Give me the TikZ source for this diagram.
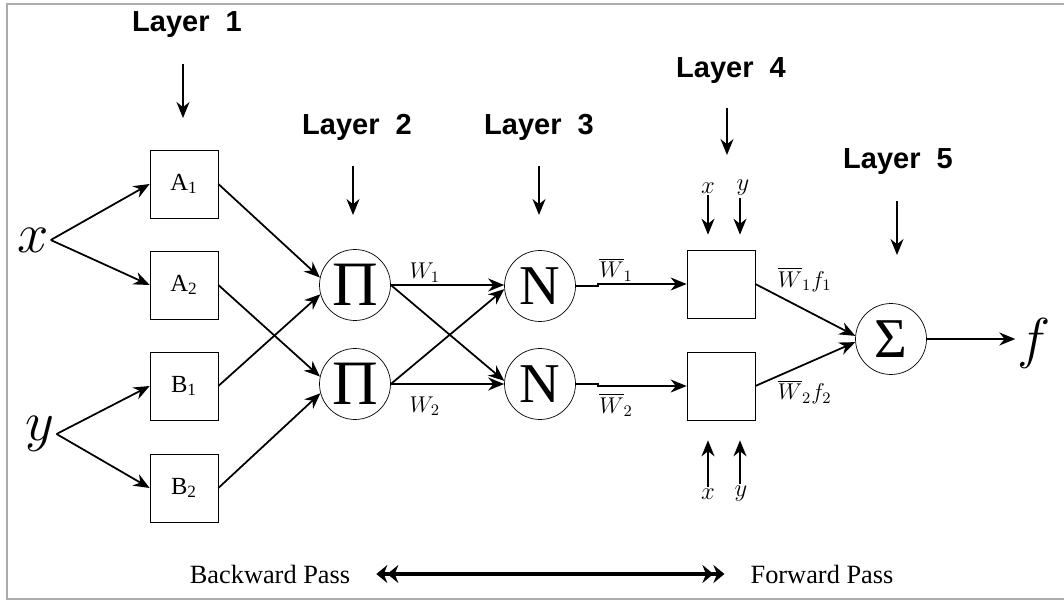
\documentclass[tikz,border=0pt]{standalone}
\usepackage{fix-cm}
\usepackage{fontspec}
\setmainfont{Liberation Serif}
\newfontfamily\layerfont{Liberation Sans}
\usepackage{amsmath}
\usepackage{tikz}
\usetikzlibrary{arrows.meta,positioning,calc}
\newcommand{\wbar}[1]{$\overline{W}_{#1}$}

\begin{document}
\begin{tikzpicture}[x=0.02cm, y=-0.02cm,
  box/.style={draw, minimum size=1.36cm, inner sep=0pt, font=\fontsize{14}{16}\selectfont},
  op/.style={draw, circle, minimum size=1.42cm, inner sep=0pt},
  lyr/.style={font=\layerfont\bfseries\fontsize{16.5}{18}\selectfont},
  inp/.style={inner sep=1pt, font=\fontsize{32}{34}\selectfont},
  wlbl/.style={inner sep=1pt, font=\fontsize{13}{15}\selectfont},
  xy/.style={inner sep=1pt, font=\fontsize{14}{16}\selectfont},
  arr/.style={-{Stealth[length=3.2mm, width=2.6mm]}, line width=1pt},
  darr/.style={{Stealth[length=2.2mm, width=3.6mm]Stealth[length=2.2mm, width=3.6mm]}-{Stealth[length=2.2mm, width=3.6mm]Stealth[length=2.2mm, width=3.6mm]}, line width=2pt},
  pass/.style={font=\fontsize{15}{17}\selectfont}
]
  \useasboundingbox (0,0) rectangle (1064,601);
  \draw[gray!65, line width=1.3pt] (1064,4) -- (7,4) -- (7,599) -- (1064,599);

  \node[inp] (xin) at (33,240) {$x$};
  \node[inp] (yin) at (40,434) {$y$};

  \node[box] (a1) at (184,184) {A\textsubscript{1}};
  \node[box] (a2) at (184,285) {A\textsubscript{2}};
  \node[box] (b1) at (184,386) {B\textsubscript{1}};
  \node[box] (b2) at (184,488) {B\textsubscript{2}};

  \node[op, font=\fontsize{36}{38}\selectfont] (p1) at (355,285) {Π};
  \node[op, font=\fontsize{36}{38}\selectfont] (p2) at (355,384) {Π};
  \node[op, font=\fontsize{32}{34}\selectfont] (n1) at (540,286) {N};
  \node[op, font=\fontsize{32}{34}\selectfont] (n2) at (540,384) {N};

  \node[box] (r1) at (721,284) {};
  \node[box] (r2) at (721,386) {};

  \node[op, font=\fontsize{32}{34}\selectfont] (sum) at (891,339) {Σ};
  \node[inp] (fout) at (1034,343) {$f$};

  \node[lyr] (l1) at (187,25) {Layer\ \ 1};
  \node[lyr] (l2) at (357,127) {Layer\ \ 2};
  \node[lyr] (l3) at (539,127) {Layer\ \ 3};
  \node[lyr] (l4) at (731,71) {Layer\ \ 4};
  \node[lyr] (l5) at (898,162) {Layer\ \ 5};
  \coordinate (t1) at (183,118);
  \coordinate (t2) at (353,215);
  \coordinate (t3) at (539,215);
  \coordinate (t4) at (727,155);
  \coordinate (t5) at (897,255);
  \draw[arr, shorten <=4mm] (l1.south -| t1) -- (t1);
  \draw[arr, shorten <=4mm] (l2.south -| t2) -- (t2);
  \draw[arr, shorten <=4mm] (l3.south -| t3) -- (t3);
  \draw[arr, shorten <=3.5mm] (l4.south -| t4) -- (t4);
  \draw[arr, shorten <=4mm] (l5.south -| t5) -- (t5);

  \node[xy] (xt) at (708,188) {$x$};
  \node[xy] (yt) at (743,188) {$y$};
  \node[xy] (xb) at (708,494) {$x$};
  \node[xy] (yb) at (741,494) {$y$};
  \draw[arr, shorten >=3mm] (xt) -- (xt |- r1.north);
  \draw[arr, shorten >=3mm] (yt.south -| 740,0) -- (740,0 |- r1.north);
  \draw[arr, shorten >=4mm] (xb) -- (xb |- r2.south);
  \draw[arr, shorten >=4mm] (yb.north -| 740,0) -- (740,0 |- r2.south);

  \draw[arr] (xin.east) -- (a1.west);
  \draw[arr] (xin.east) -- (a2.west);
  \draw[arr] (yin.east) -- (b1.west);
  \draw[arr] (yin.east) -- (b2.west);

  \draw[arr] (a1.east) -- (p1.168);
  \draw[arr] (b1.east) -- (p1.195);
  \draw[arr] (a2.east) -- (p2.168);
  \draw[arr] (b2.east) -- (p2.195);

  \draw[arr] (p1.east) -- node[wlbl, above, pos=0.3] {$W_1$} (p1.east -| n1.west);
  \draw[arr] (p2.east) -- node[wlbl, below, pos=0.3, yshift=-2mm] {$W_2$} (p2.east -| n2.west);
  \draw[arr] (p1.east) -- (n2.175);
  \draw[arr] (p2.east) -- (n1.185);

  \draw[arr] (n1.east) -- ++(0.45cm,0) |- node[wlbl, above, pos=0.6] {\wbar{1}} (r1.west);
  \draw[arr] (n2.east) -- ++(0.45cm,0) |- node[wlbl, below, pos=0.6, yshift=-1mm] {\wbar{2}} (r2.west);

  \draw[arr] (r1.east) -- node[wlbl, above right, pos=0.2] {$\overline{W}_1 f_1$} (sum.175);
  \draw[arr] (r2.east) -- node[wlbl, below right, pos=0.2] {$\overline{W}_2 f_2$} (sum.185);
  \draw[arr] (sum.east) -- (sum.east -| fout.west);

  \node[pass] (bw) at (270,574) {Backward Pass};
  \node[pass] (fw) at (822,574) {Forward Pass};
  \draw[darr, shorten <=4mm, shorten >=4mm] (bw.east) -- (fw.west);
\end{tikzpicture}
\end{document}
